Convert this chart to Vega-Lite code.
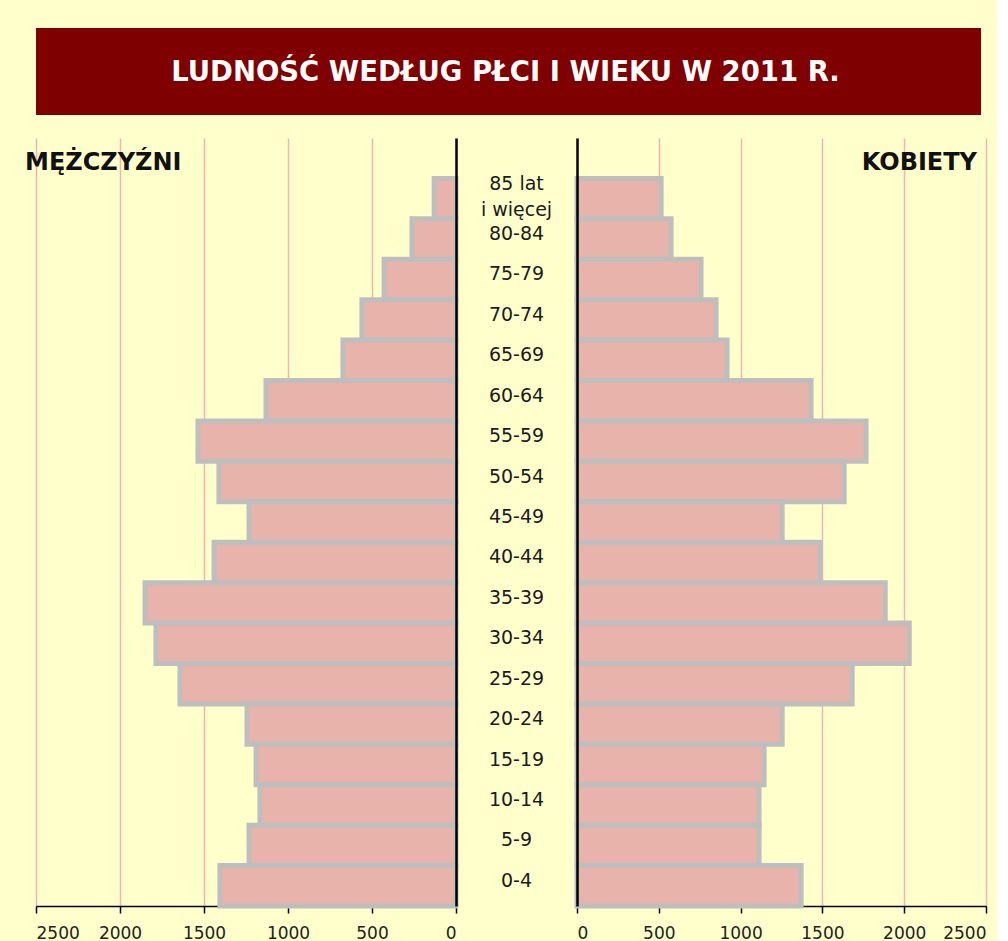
{
  "$schema": "https://vega.github.io/schema/vega-lite/v6.json",
  "background": "#FFFFCC",
  "padding": {"left": 25, "top": 28, "right": 10, "bottom": 10},
  "config": {"view": {"stroke": null}, "font": "DejaVu Sans"},
  "datasets": {
    "pop": [
      {"age": "85 lat\ni więcej", "men": 130, "women": 514},
      {"age": "80-84", "men": 262, "women": 575},
      {"age": "75-79", "men": 428, "women": 758},
      {"age": "70-74", "men": 560, "women": 850},
      {"age": "65-69", "men": 673, "women": 917},
      {"age": "60-64", "men": 1131, "women": 1431},
      {"age": "55-59", "men": 1536, "women": 1767},
      {"age": "50-54", "men": 1411, "women": 1633},
      {"age": "45-49", "men": 1232, "women": 1254},
      {"age": "40-44", "men": 1440, "women": 1486},
      {"age": "35-39", "men": 1851, "women": 1884},
      {"age": "30-34", "men": 1786, "women": 2031},
      {"age": "25-29", "men": 1643, "women": 1682},
      {"age": "20-24", "men": 1244, "women": 1254},
      {"age": "15-19", "men": 1190, "women": 1144},
      {"age": "10-14", "men": 1167, "women": 1113},
      {"age": "5-9", "men": 1232, "women": 1113},
      {"age": "0-4", "men": 1405, "women": 1370}
    ]
  },
  "vconcat": [
    {
      "width": 945,
      "height": 87,
      "view": {"fill": "#7F0000", "stroke": null},
      "data": {"values": [{"t": "LUDNOŚĆ WEDŁUG PŁCI I WIEKU W 2011 R."}]},
      "mark": {"type": "text", "color": "#FFFFFF", "fontSize": 27.5, "fontWeight": "bold", "font": "DejaVu Sans", "align": "center", "baseline": "middle", "dx": -3, "dy": 1},
      "encoding": {"text": {"field": "t"}}
    },
    {
      "hconcat": [
        {
          "width": 420,
          "height": 768,
          "data": {"name": "pop"},
          "layer": [
            {
              "mark": {"type": "bar", "fill": "#E8B3AB", "stroke": "#BEBEBE", "strokeWidth": 5},
              "encoding": {
                "y": {"field": "age", "type": "nominal",
                  "scale": {"domain": ["top", "85 lat\ni więcej", "80-84", "75-79", "70-74", "65-69", "60-64", "55-59", "50-54", "45-49", "40-44", "35-39", "30-34", "25-29", "20-24", "15-19", "10-14", "5-9", "0-4"], "paddingInner": 0, "paddingOuter": 0},
                  "axis": {"orient": "right", "labels": false, "ticks": false, "title": null, "grid": false, "domainColor": "#000000", "domainWidth": 2.5, "zindex": 1}},
                "x": {"field": "men", "type": "quantitative",
                  "scale": {"domain": [0, 2500], "reverse": true, "nice": false},
                  "axis": {"values": [0, 500, 1000, 1500, 2000, 2500], "format": "d", "title": null, "grid": true, "gridColor": "#EFB4B4", "gridWidth": 1.5, "gridOpacity": 1, "domainColor": "#000000", "domainWidth": 1.5, "tickColor": "#000000", "tickWidth": 1.5, "tickSize": 7, "labelColor": "#222222", "labelFontSize": 17, "labelFont": "DejaVu Sans", "labelPadding": 12}}
              }
            },
            {
              "data": {"values": [{"t": "MĘŻCZYŹNI"}]},
              "mark": {"type": "text", "align": "left", "baseline": "middle", "dx": -11, "dy": 5, "fontSize": 24, "fontWeight": "bold", "font": "DejaVu Sans", "color": "#111111"},
              "encoding": {"text": {"field": "t"}, "x": {"datum": 2500}, "y": {"datum": "top"}}
            }
          ]
        },
        {
          "width": 121,
          "height": 768,
          "data": {"name": "pop"},
          "encoding": {
            "text": {"field": "age"},
            "y": {"field": "age", "type": "nominal",
              "scale": {"domain": ["top", "85 lat\ni więcej", "80-84", "75-79", "70-74", "65-69", "60-64", "55-59", "50-54", "45-49", "40-44", "35-39", "30-34", "25-29", "20-24", "15-19", "10-14", "5-9", "0-4"], "paddingInner": 0, "paddingOuter": 0},
              "axis": null}
          },
          "layer": [
            {
              "transform": [{"filter": "indexof(datum.age, 'lat') < 0"}],
              "mark": {"type": "text", "fontSize": 19, "font": "DejaVu Sans", "color": "#1A1A1A", "dy": -5}
            },
            {
              "transform": [{"filter": "indexof(datum.age, 'lat') >= 0"}],
              "mark": {"type": "text", "fontSize": 19, "font": "DejaVu Sans", "color": "#1A1A1A", "lineBreak": "\n", "lineHeight": 26, "dy": -15}
            }
          ]
        },
        {
          "width": 409,
          "height": 768,
          "data": {"name": "pop"},
          "layer": [
            {
              "mark": {"type": "bar", "fill": "#E8B3AB", "stroke": "#BEBEBE", "strokeWidth": 5},
              "encoding": {
                "y": {"field": "age", "type": "nominal",
                  "scale": {"domain": ["top", "85 lat\ni więcej", "80-84", "75-79", "70-74", "65-69", "60-64", "55-59", "50-54", "45-49", "40-44", "35-39", "30-34", "25-29", "20-24", "15-19", "10-14", "5-9", "0-4"], "paddingInner": 0, "paddingOuter": 0},
                  "axis": {"orient": "left", "labels": false, "ticks": false, "title": null, "grid": false, "domainColor": "#000000", "domainWidth": 2.5, "zindex": 1}},
                "x": {"field": "women", "type": "quantitative",
                  "scale": {"domain": [0, 2500], "nice": false},
                  "axis": {"values": [0, 500, 1000, 1500, 2000, 2500], "format": "d", "title": null, "grid": true, "gridColor": "#EFB4B4", "gridWidth": 1.5, "gridOpacity": 1, "domainColor": "#000000", "domainWidth": 1.5, "tickColor": "#000000", "tickWidth": 1.5, "tickSize": 7, "labelColor": "#222222", "labelFontSize": 17, "labelFont": "DejaVu Sans", "labelPadding": 12}}
              }
            },
            {
              "data": {"values": [{"t": "KOBIETY"}]},
              "mark": {"type": "text", "align": "right", "baseline": "middle", "dx": -9, "dy": 5, "fontSize": 24, "fontWeight": "bold", "font": "DejaVu Sans", "color": "#111111"},
              "encoding": {"text": {"field": "t"}, "x": {"datum": 2500}, "y": {"datum": "top"}}
            }
          ]
        }
      ],
      "spacing": 0,
      "bounds": "flush"
    }
  ],
  "spacing": 23,
  "bounds": "flush"
}
